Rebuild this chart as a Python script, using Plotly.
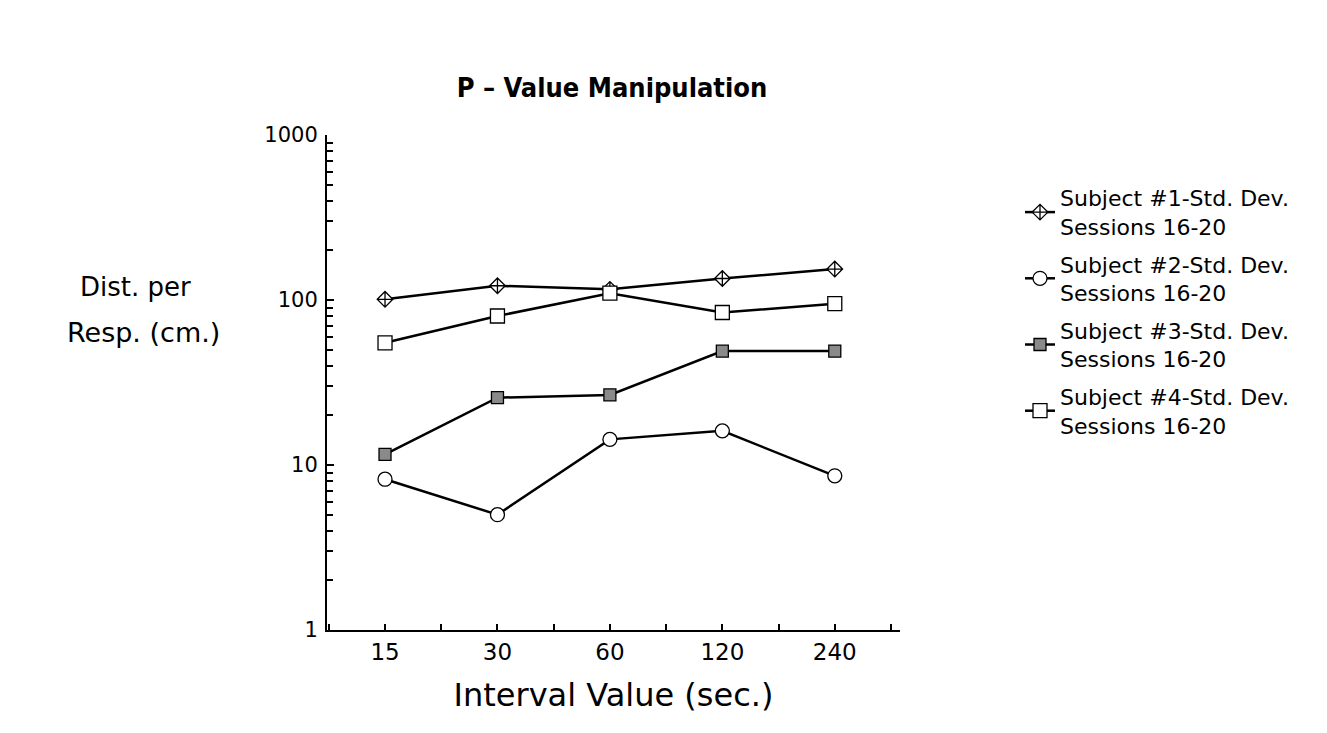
import plotly.graph_objects as go

intervals = [15, 30, 60, 120, 240]
subject1 = [101, 122, 116, 135, 154]
subject2 = [8.2, 5.0, 14.3, 16.1, 8.6]
subject3 = [11.6, 25.6, 26.6, 49, 49]
subject4 = [55, 80, 110, 84, 95]
names = [
    "Subject #1-Std. Dev.<br>Sessions 16-20",
    "Subject #2-Std. Dev.<br>Sessions 16-20",
    "Subject #3-Std. Dev.<br>Sessions 16-20",
    "Subject #4-Std. Dev.<br>Sessions 16-20",
]
ytick_vals = [1, 10, 100, 1000]
yminor_vals = [m * 10 ** d for d in range(3) for m in range(2, 10)]

xpos = list(range(len(intervals)))
FONT = "DejaVu Sans, Liberation Sans, sans-serif"

L, R, T, B = 327, 427, 135, 103
W, H = 1327, 733
pw = W - L - R
ph = H - T - B


def px_x(x):
    return (x - L) / pw


def px_y(y):
    return (H - B - y) / ph


styles = [
    dict(symbol="diamond-cross", size=12, color="white"),
    dict(symbol="circle", size=14, color="white"),
    dict(symbol="square", size=12, color="#8a8a8a"),
    dict(symbol="square", size=14, color="white"),
]

fig = go.Figure()
for i, (ys, nm, st) in enumerate(zip([subject1, subject2, subject3, subject4], names, styles)):
    fig.add_trace(go.Scatter(
        x=xpos, y=ys, name=nm, mode="lines+markers", legendgroup=f"g{i}",
        line=dict(color="black", width=2.5),
        marker=dict(symbol=st["symbol"], size=st["size"], color=st["color"],
                    line=dict(color="black", width=1.3)),
    ))

fig.update_layout(
    width=W, height=H,
    paper_bgcolor="white", plot_bgcolor="white",
    margin=dict(l=L, r=R, t=T, b=B, autoexpand=False),
    font=dict(family=FONT, color="black"),
    title=dict(text="<b>P – Value Manipulation</b>", x=612 / W, xanchor="center",
               y=1 - 88 / H, yanchor="middle",
               font=dict(family="DejaVu Sans Condensed, DejaVu Sans, sans-serif", size=27)),
    showlegend=True,
    legend=dict(x=px_x(1020), y=px_y(177), xanchor="left", yanchor="top",
                font=dict(size=22), tracegroupgap=6, itemwidth=30,
                bgcolor="rgba(0,0,0,0)"),
    xaxis=dict(
        range=[-0.516, 4.58], tickmode="array", tickvals=xpos,
        ticktext=[str(v) for v in intervals],
        showgrid=False, zeroline=False, showline=True, linecolor="black", linewidth=2,
        ticks="inside", ticklen=6, tickwidth=2, tickcolor="black",
        minor=dict(tickmode="linear", tick0=0.5, dtick=1, ticks="inside", ticklen=6,
                   tickwidth=1.5, tickcolor="black", showgrid=False),
        tickfont=dict(size=23), title=dict(text="Interval Value (sec.)", font=dict(size=32), standoff=20),
        fixedrange=True,
    ),
    yaxis=dict(
        type="log", range=[0, 3], tickmode="array", tickvals=ytick_vals,
        ticktext=[str(v) for v in ytick_vals],
        showgrid=False, zeroline=False, showline=True, linecolor="black", linewidth=2,
        ticks="inside", ticklen=7, tickwidth=2, tickcolor="black",
        minor=dict(tickmode="array", tickvals=yminor_vals, ticks="inside", ticklen=6,
                   tickwidth=1.5, tickcolor="black", showgrid=False),
        tickfont=dict(size=21), ticklabelstandoff=3,
    ),
    annotations=[
        dict(text="Dist. per", x=px_x(135), y=px_y(287), xref="paper", yref="paper",
             showarrow=False, font=dict(size=26), xanchor="center", yanchor="middle"),
        dict(text="Resp. (cm.)", x=px_x(143), y=px_y(332), xref="paper", yref="paper",
             showarrow=False, font=dict(size=27), xanchor="center", yanchor="middle"),
    ],
)
fig.write_html("out.html")
